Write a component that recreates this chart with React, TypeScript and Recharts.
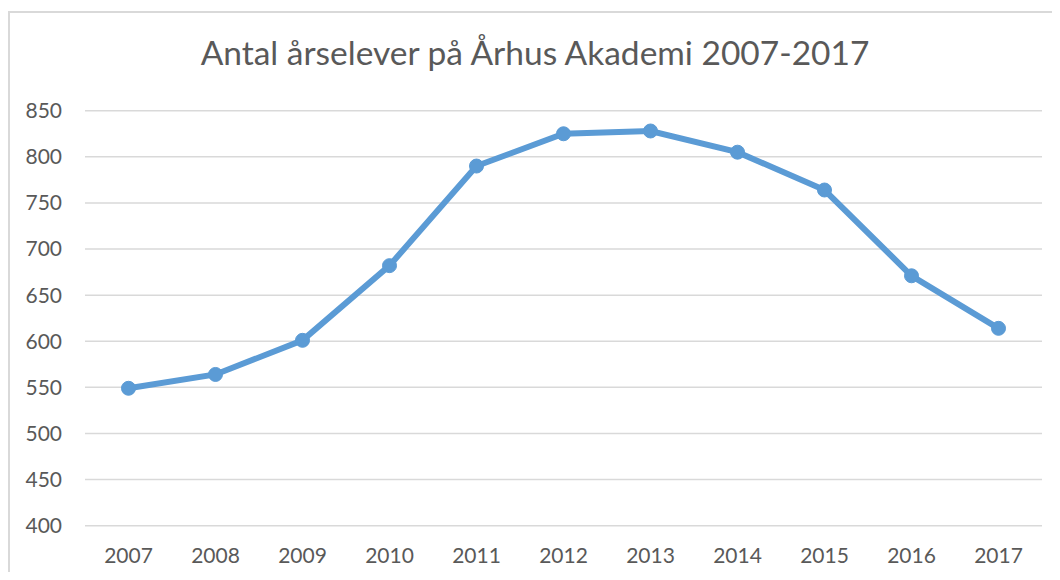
import React from "react"
import { LineChart, Line, XAxis, YAxis, CartesianGrid } from "recharts"

const years = ["2007", "2008", "2009", "2010", "2011", "2012", "2013", "2014", "2015", "2016", "2017"]
const students = [549, 564, 601, 682, 790, 825, 828, 805, 764, 671, 614]
const yTicks = [400, 450, 500, 550, 600, 650, 700, 750, 800, 850]

const data = years.map((year, i) => ({ year, students: students[i] }))

const FONT = "Lato, 'Open Sans', sans-serif"
const TEXT = "#595959"
const BLUE = "#5B9BD5"

export default function App() {
  return (
    <div style={{ position: "relative", width: 1060, height: 580, margin: -8, background: "#fff", overflow: "hidden" }}>
      {/* frame of the chart, runs off the right and bottom edge */}
      <div
        style={{
          position: "absolute",
          left: 8,
          top: 11,
          width: 1100,
          height: 620,
          borderLeft: "2px solid #D9D9D9",
          borderTop: "2px solid #D9D9D9",
        }}
      />
      <div
        style={{
          position: "absolute",
          left: 0,
          width: 1070,
          top: 36,
          textAlign: "center",
          fontFamily: FONT,
          fontSize: 33.5,
          lineHeight: "33px",
          color: TEXT,
        }}
      >
        Antal årselever på Århus Akademi 2007-2017
      </div>
      <div style={{ position: "absolute", left: 0, top: 0 }}>
        <LineChart
          width={1060}
          height={580}
          data={data}
          margin={{ top: 110.7, right: 18, bottom: 0, left: 8 }}
        >
          <CartesianGrid vertical={false} stroke="#D9D9D9" strokeWidth={1.5} />
          <XAxis
            dataKey="year"
            axisLine={false}
            tickLine={false}
            tickSize={0}
            tickMargin={22}
            height={54.3}
            padding={{ left: 43.5, right: 43.5 }}
            tick={{ fill: TEXT, fontFamily: FONT, fontSize: 21 }}
            interval={0}
          />
          <YAxis
            domain={[400, 850]}
            ticks={yTicks}
            interval={0}
            width={77}
            axisLine={false}
            tickLine={false}
            tickSize={0}
            tickMargin={23}
            tick={{ fill: TEXT, fontFamily: FONT, fontSize: 21 }}
          />
          <Line
            type="linear"
            dataKey="students"
            stroke={BLUE}
            strokeWidth={6}
            dot={{ r: 7, fill: BLUE, stroke: BLUE, strokeWidth: 1 }}
            activeDot={false}
            isAnimationActive={false}
          />
        </LineChart>
      </div>
    </div>
  )
}
